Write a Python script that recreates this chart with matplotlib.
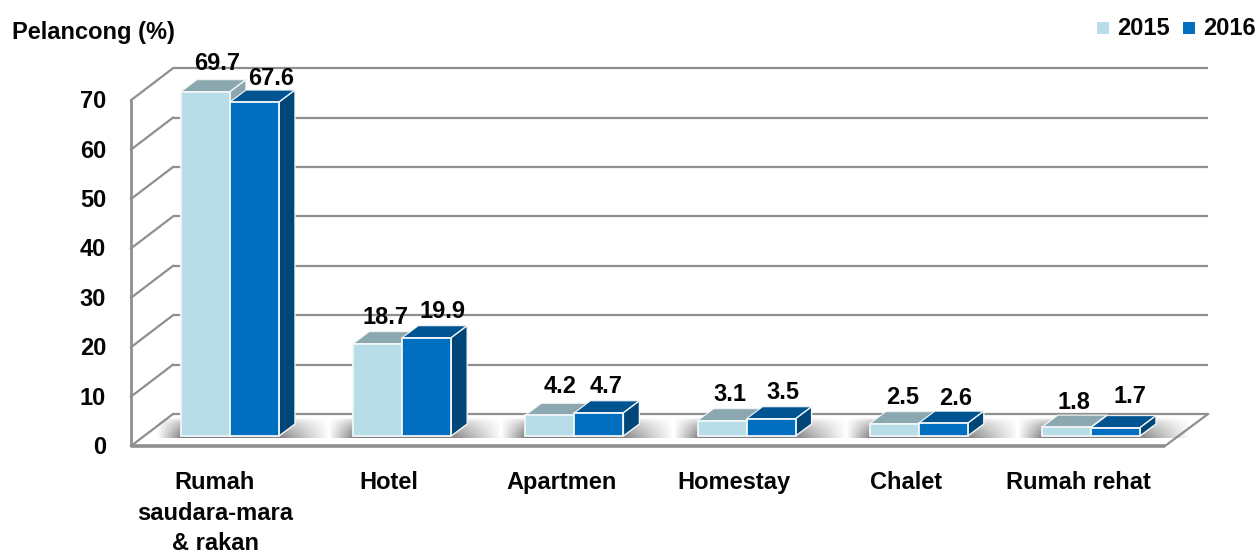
import numpy as np
import matplotlib
matplotlib.use("Agg")
import matplotlib.pyplot as plt
from matplotlib.patches import Polygon, Rectangle

categories = ["Rumah\nsaudara-mara\n& rakan", "Hotel", "Apartmen", "Homestay", "Chalet", "Rumah rehat"]
values_2015 = [69.7, 18.7, 4.2, 3.1, 2.5, 1.8]
values_2016 = [67.6, 19.9, 4.7, 3.5, 2.6, 1.7]
y_ticks = [0, 10, 20, 30, 40, 50, 60, 70]

W, H = 1257, 554
plt.rcParams["font.family"] = ["Liberation Sans", "DejaVu Sans"]
plt.rcParams["font.weight"] = "bold"
FS = 17
INK = "#050505"

fig = plt.figure(figsize=(W / 100, H / 100), dpi=100, facecolor="white")
ax = fig.add_axes([0, 0, 1, 1])
ax.axis("off")

# scales: category index -> px, value -> px
X0, DXC = 230.0, 172.2
Y0, PPU = 446.0, 4.94
XLIM = ((0 - X0) / DXC, (W - X0) / DXC)
YLIM = ((Y0 - H) / PPU, Y0 / PPU)

def dx(px):
    return px / DXC
def dy(px):
    return px / PPU

GRID = "#8f8f8f"
WALL_DX, WALL_DY = 42, 32
LEFT = (131 - X0) / DXC
BACK_L = LEFT + dx(WALL_DX)
BACK_R = (1208 - X0) / DXC
FRONT_R = (1165 - X0) / DXC
lift = dy(WALL_DY)

# back wall grid and left wall slants
for v in y_ticks:
    ax.plot([BACK_L, BACK_R], [v + lift, v + lift], color=GRID, lw=1.6, zorder=1, solid_capstyle="butt")
    ax.plot([LEFT, BACK_L], [v, v + lift], color=GRID, lw=1.6, zorder=1)
ax.plot([LEFT, LEFT], [0, 70], color=GRID, lw=2.0, zorder=2, solid_capstyle="butt")
ax.plot([LEFT, FRONT_R], [0, 0], color=GRID, lw=2.6, zorder=2, solid_capstyle="butt")
ax.plot([FRONT_R, BACK_R], [0, lift], color=GRID, lw=1.6, zorder=2)

# bars
BAR_W = 49 / DXC
BASE = dy(10)
DEP_X, DEP_Y = dx(16), dy(12)
C15, C16 = "#b7dde9", "#006fc0"
T15, T16 = "#8ba7af", "#005491"
S15, S16 = "#8ba7af", "#004679"
EDGE = "#f2f6f8"
x = np.arange(len(categories))

# floor shadows
n = 64
for xi in x:
    shade_l = xi - BAR_W - dx(24)
    shade_r = xi + BAR_W + dx(50)
    xs = np.linspace(shade_l, shade_r, n * 4)
    ys = np.linspace(0, 1, n)
    fx = np.ones_like(xs)
    left = xs < xi - BAR_W
    right = xs > xi + BAR_W
    fx[left] = (xs[left] - shade_l) / (xi - BAR_W - shade_l)
    fx[right] = (shade_r - xs[right]) / (shade_r - xi - BAR_W)
    a = np.outer((1 - ys) ** 0.55, fx) * 0.85
    img = np.zeros((n, xs.size, 4))
    img[..., :3] = 0.42
    img[..., 3] = a
    ax.imshow(img, extent=[shade_l, shade_r, dy(8), dy(28)], origin="lower",
              aspect="auto", zorder=3, interpolation="bilinear")
ax.set_xlim(*XLIM)
ax.set_ylim(*YLIM)

def bar3d(xl, v, front, top, side, z):
    ax.bar(xl, v, BAR_W, bottom=BASE, align="edge", color=front, edgecolor=EDGE, linewidth=1.3, zorder=z + 0.2)
    xr = xl + BAR_W
    yt = BASE + v
    ax.add_patch(Polygon([(xl, yt), (xr, yt), (xr + DEP_X, yt + DEP_Y), (xl + DEP_X, yt + DEP_Y)],
                         closed=True, fc=top, ec=EDGE, lw=0.8, zorder=z))
    ax.add_patch(Polygon([(xr, BASE), (xr + DEP_X, BASE + DEP_Y), (xr + DEP_X, yt + DEP_Y), (xr, yt)],
                         closed=True, fc=side, ec=EDGE, lw=1.0, zorder=z))

for i in x:
    bar3d(i - BAR_W, values_2015[i], C15, T15, S15, 5 + i)
    bar3d(i, values_2016[i], C16, T16, S16, 5.5 + i)

# value labels (pixel offsets from the front-top-centre of each bar)
off15 = [(12, 28), (8, 26), (10, 29), (8, 26), (8, 26), (7, 25)]
off16 = [(17, 24), (16, 26), (7, 26), (12, 26), (12, 25), (14, 31)]
for i in x:
    for vals, xl, off in ((values_2015, i - BAR_W, off15), (values_2016, i, off16)):
        v = vals[i]
        ax.annotate(f"{v:.1f}", (xl + BAR_W / 2, BASE + v), xytext=off[i], textcoords="offset pixels",
                    ha="center", va="center", fontsize=FS, color=INK, zorder=30)

# tick labels
for v in y_ticks:
    ax.text(LEFT - dx(25), v - dy(1.5), str(v), ha="right", va="center", fontsize=FS, color=INK)
for i, c in zip(x, categories):
    ax.text(i - dx(15) if i == 0 else i - dx(13), dy(-25), c, ha="center", va="top", fontsize=FS,
            color=INK, linespacing=1.43)

# axis title and legend
fig.text(12 / W, 1 - 32 / H, "Pelancong (%)", ha="left", va="center", fontsize=FS, color=INK)
fig.add_artist(Rectangle((1097 / W, 1 - 34 / H), 12 / W, 12 / H, transform=fig.transFigure, fc=C15, ec="none"))
fig.add_artist(Rectangle((1183 / W, 1 - 34 / H), 12 / W, 12 / H, transform=fig.transFigure, fc=C16, ec="none"))
fig.text(1117 / W, 1 - 28.5 / H, "2015", ha="left", va="center", fontsize=FS, color=INK)
fig.text(1203 / W, 1 - 28.5 / H, "2016", ha="left", va="center", fontsize=FS, color=INK)

fig.savefig("out.png", dpi=100)
